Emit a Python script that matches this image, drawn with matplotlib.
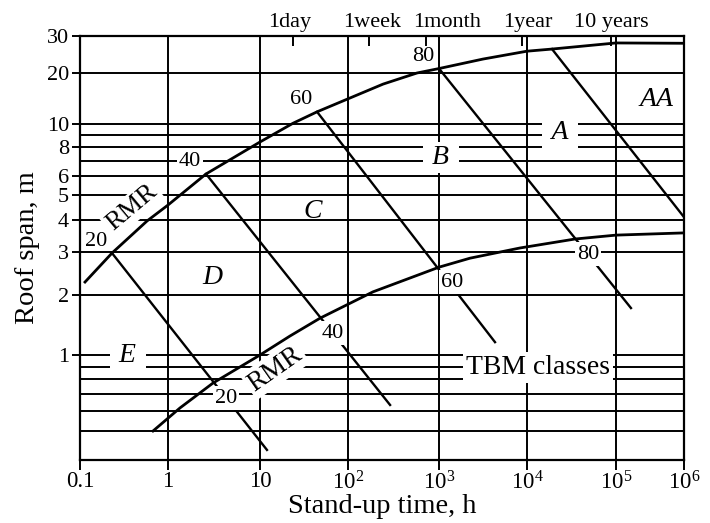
import numpy as np
import matplotlib.pyplot as plt
from matplotlib.transforms import ScaledTranslation

plt.rcParams['font.family'] = ['Liberation Serif', 'DejaVu Serif']
plt.rcParams['mathtext.fontset'] = 'custom'
plt.rcParams['mathtext.rm'] = 'Liberation Serif'
plt.rcParams['mathtext.it'] = 'Liberation Serif:italic'

# upper RMR curve: roof span against stand-up time
upper_t = [0.114, 0.231, 0.577, 1.0, 2.59, 10, 23.7, 44.5, 97.5, 243, 573,
           1000, 3160, 1e4, 19100, 1e5, 1e6]
upper_span = [2.26, 2.97, 3.96, 4.57, 6.14, 8.39, 10.1, 11.8, 14.0, 17.2, 20.0,
              21.0, 23.3, 25.4, 26.0, 27.8, 27.7]

# lower RMR curve
lower_t = [0.676, 1.35, 3.08, 10, 21.9, 48.1, 188, 1000, 2250, 8320, 34600,
           1e5, 1e6]
lower_span = [0.5, 0.617, 0.774, 1.0, 1.245, 1.53, 2.06, 2.60, 2.83, 3.11, 3.37,
              3.49, 3.56]

# constant RMR lines, from the upper curve down and to the right
rmr_values = [20, 40, 60, 80, 100]
rmr_top_t = [0.231, 2.59, 44.5, 1000, 19100]
rmr_top_span = [2.97, 6.14, 11.8, 21.0, 26.0]
rmr_low_t = [3.08, 48.1, 1000, 34600]
rmr_low_span = [0.774, 1.53, 2.60, 3.37]
rmr_end_t = [12.0, 290, 4330, 166000, 1e6]
rmr_end_span = [0.418, 0.634, 1.16, 1.72, 4.10]

span_lines = [0.5, 0.6, 0.7, 0.8, 0.9, 1, 2, 3, 4, 5, 6, 7, 8, 9, 10, 20]
time_lines = [1, 10, 1e2, 1e3, 1e4, 1e5]

span_ticks = [1, 2, 3, 4, 5, 6, 8, 10, 20, 30]
time_ticks = [0.1, 1, 10, 1e2, 1e3, 1e4, 1e5, 1e6]
time_ticklabels = ['0.1', '1', '10', '$10^2$', '$10^3$', '$10^4$', '$10^5$', '$10^6$']

period_hours = [24, 168, 720, 8760, 87600]
period_labels = ['1day', '1week', '1month', '1year', '10 years']

class_names = ['AA', ' A ', ' B ', 'C', 'D', ' E ']
class_t = [401000, 23500, 1050, 40.0, 3.01, 0.351]
class_span = [14.0, 9.16, 7.2, 4.3, 2.35, 1.0]


def log_piecewise(knots, frac):
    lk = np.log10(knots)
    frac = np.asarray(frac, float)

    def fwd(v):
        with np.errstate(divide='ignore', invalid='ignore'):
            return np.interp(np.log10(v), lk, frac)

    def inv(f):
        return 10 ** np.interp(f, frac, lk)
    return fwd, inv


# the nomogram is drawn on log axes whose decades are not all the same length
x_fn = log_piecewise([0.1, 1, 10, 1e2, 1e3, 1e4, 1e5, 1e6],
                     np.array([0, 88, 180, 268, 359, 447, 536, 604]) / 604)
y_fn = log_piecewise([0.38, 0.5, 1, 2, 3, 5, 10, 20, 30],
                     np.array([0, 29, 105, 165, 208, 265, 336, 387, 424]) / 424)

fig = plt.figure(figsize=(7.1, 5.23), dpi=100)
ax = fig.add_axes([80 / 710, 63 / 523, 604 / 710, 424 / 523])
ax.set_xscale('function', functions=x_fn)
ax.set_yscale('function', functions=y_fn)
ax.set_xlim(0.1, 1e6)
ax.set_ylim(0.38, 30)

for s in span_lines:
    ax.axhline(s, color='black', lw=1.4, zorder=1)
for t in time_lines:
    ax.axvline(t, color='black', lw=1.4, zorder=1)

ax.plot(upper_t, upper_span, color='black', lw=2.0, zorder=3,
        solid_joinstyle='round')
ax.plot(lower_t, lower_span, color='black', lw=2.0, zorder=3,
        solid_joinstyle='round')
for i in range(len(rmr_values)):
    ax.plot([rmr_top_t[i], rmr_end_t[i]], [rmr_top_span[i], rmr_end_span[i]],
            color='black', lw=1.7, zorder=3)

white = dict(facecolor='white', edgecolor='none', boxstyle='square,pad=0.1')

# rating values along both curves
for i in range(4):
    box = white if rmr_values[i] == 40 else None
    ax.annotate(str(rmr_values[i]), (rmr_top_t[i], rmr_top_span[i]),
                xytext=(-16, 12), textcoords='offset pixels', fontsize=16,
                ha='center', va='center', bbox=box, zorder=5)
    ax.annotate(str(rmr_values[i]), (rmr_low_t[i], rmr_low_span[i]),
                xytext=(13, -15), textcoords='offset pixels', fontsize=16,
                ha='center', va='center', bbox=white, zorder=5)

ax.text(0.39, 4.45, 'RMR', fontsize=19, rotation=40, rotation_mode='anchor',
        ha='center', va='center', bbox=white, zorder=5)
ax.text(14.8, 0.88, 'RMR', fontsize=19.5, rotation=35, rotation_mode='anchor',
        ha='center', va='center', bbox=white, zorder=5)
ax.text(13300, 0.89, 'TBM classes', fontsize=20, ha='center', va='center',
        bbox=white, zorder=5)

for name, t, s in zip(class_names, class_t, class_span):
    box = white if name.strip() in ('A', 'B', 'E') else None
    ax.text(t, s, name, fontsize=20, style='italic', ha='center', va='center',
            bbox=box, zorder=5)

ax.set_yticks(span_ticks)
ax.set_yticklabels([str(v) for v in span_ticks])
ax.set_xticks(time_ticks)
ax.set_xticklabels(time_ticklabels)
ax.minorticks_off()
ax.tick_params(axis='both', direction='out', width=1.4, labelsize=16.5)
ax.tick_params(axis='x', length=7, pad=1)
ax.tick_params(axis='y', length=6, pad=2, labelsize=16)
ax.set_xlabel('Stand-up time, h', fontsize=20.5, va='top')
ax.set_ylabel('Roof span, m', fontsize=20.5)
ax.xaxis.set_label_coords(0.5, -0.08)
ax.yaxis.set_label_coords(-0.066, 0.5)
for sp in ax.spines.values():
    sp.set_linewidth(1.6)

# calendar periods on the top edge
top = ax.twiny()
top.set_xscale('function', functions=x_fn)
top.set_xlim(0.1, 1e6)
top.set_xticks(period_hours)
top.set_xticklabels(period_labels)
top.minorticks_off()
top.tick_params(axis='x', direction='in', length=7, width=1.4, labelsize=16,
                pad=3)
label_shift = [-4, 4, 21, 6, 0]
for lab, dx in zip(top.get_xticklabels(), label_shift):
    lab.set_transform(lab.get_transform()
                      + ScaledTranslation(dx / 100, 0, fig.dpi_scale_trans))
for sp in top.spines.values():
    sp.set_visible(False)

fig.savefig('out.png', dpi=100)
